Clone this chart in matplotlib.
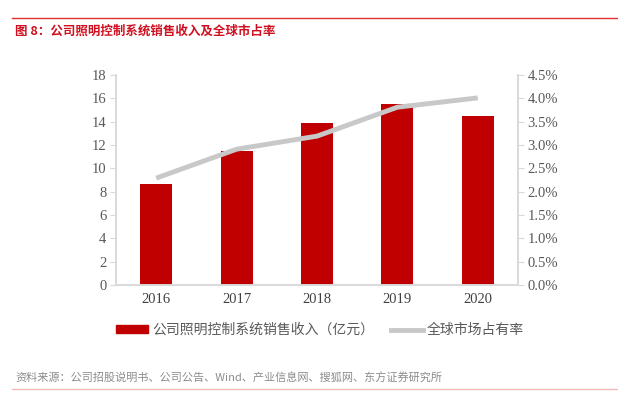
import matplotlib
matplotlib.use("Agg")
import matplotlib.pyplot as plt
from matplotlib.lines import Line2D
from matplotlib.patches import Patch

plt.rcParams['font.family'] = ['Noto Sans CJK SC', 'DejaVu Sans']

years = ["2016", "2017", "2018", "2019", "2020"]
revenue = [8.65, 11.5, 13.9, 15.5, 14.5]          # 亿元
share = [2.29, 2.91, 3.19, 3.81, 4.01]            # %
left_ticks = list(range(0, 20, 2))
right_ticks = [0, 0.5, 1.0, 1.5, 2.0, 2.5, 3.0, 3.5, 4.0, 4.5]

RED = "#c00000"
GREY_LINE = "#c8c8c8"
AXIS = "#d9d9d9"
TXT = "#595959"
SERIF = "Liberation Serif"

fig = plt.figure(figsize=(6.18, 3.98), dpi=100)
ax = fig.add_axes([116 / 618, 1 - 285 / 398, (518 - 116) / 618, 210 / 398])
ax2 = ax.twinx()

x = range(len(years))
ax.bar(x, revenue, width=0.4, color=RED, zorder=2)
ax2.plot(x, share, color=GREY_LINE, linewidth=3.5, solid_capstyle="butt", zorder=3)

ax.set_xlim(-0.5, len(years) - 0.5)
ax.set_ylim(0, 18)
ax2.set_ylim(0, 4.5)
ax.set_yticks(left_ticks)
ax.set_yticklabels([str(t) for t in left_ticks], fontfamily=SERIF, fontsize=10.5, color=TXT)
ax2.set_yticks(right_ticks)
ax2.set_yticklabels([f"{t:.1f}%" for t in right_ticks], fontfamily=SERIF, fontsize=10.5, color=TXT)
ax.set_xticks(list(x))
ax.set_xticklabels(years, fontfamily=SERIF, fontsize=10.5, color="#404040")

for a in (ax, ax2):
    a.spines["top"].set_visible(False)
    for s in ("left", "right", "bottom"):
        a.spines[s].set_color(AXIS)
        a.spines[s].set_linewidth(1.2)
ax.tick_params(axis="y", length=4, color=AXIS, pad=3)
ax2.tick_params(axis="y", length=4, color=AXIS, pad=3)
ax.tick_params(axis="x", length=0, pad=6)

# legend below the plot
handles = [Patch(color=RED), Line2D([], [], color=GREY_LINE, linewidth=3.5)]
labels = ["公司照明控制系统销售收入（亿元）", "全球市场占有率"]
leg = fig.legend(handles, labels, loc="center", bbox_to_anchor=(320 / 618, 1 - 330 / 398),
                 ncol=2, frameon=False, fontsize=10, handlelength=2.3, handleheight=0.45,
                 columnspacing=1.2, handletextpad=0.3)
for t in leg.get_texts():
    t.set_color(TXT)

# header and footer
fig.add_artist(Line2D([12 / 618, 1], [1 - 18 / 398] * 2, color="#e03030", linewidth=1))
fig.text(15 / 618, 1 - 31 / 398, "图 8：公司照明控制系统销售收入及全球市占率",
         color="#d01020", fontsize=9, fontweight="bold", va="center")
fig.text(15 / 618, 1 - 378 / 398, "资料来源：公司招股说明书、公司公告、Wind、产业信息网、搜狐网、东方证券研究所",
         color="#8c8c8c", fontsize=8, va="center")
fig.add_artist(Line2D([12 / 618, 1], [1 - 389 / 398] * 2, color="#f4b8b8", linewidth=1))

fig.savefig("out.png", dpi=100)
